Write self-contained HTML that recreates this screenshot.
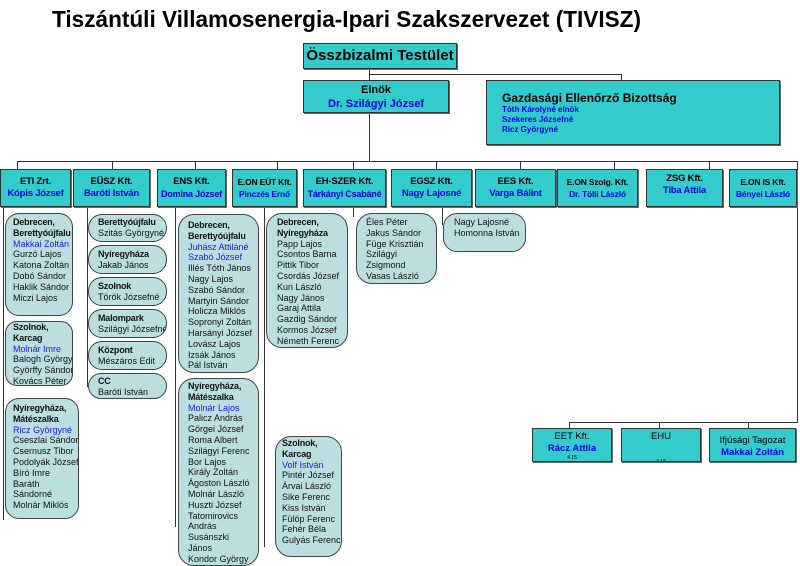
<!DOCTYPE html>
<html><head><meta charset="utf-8"><style>
body{margin:0;width:800px;height:564px;background:#fff;position:relative;overflow:hidden;font-family:"Liberation Sans",Arial,sans-serif}
.a{position:absolute}
.h{position:absolute;background:#333;height:1px}
.v{position:absolute;background:#333;width:1px}
.b{position:absolute;background:#33CCCC;border:1px solid #333;box-shadow:1px 1px 0 #666;box-sizing:border-box;text-align:center;font-weight:bold;font-size:9.5px;line-height:12px;white-space:nowrap;overflow:hidden;letter-spacing:-0.2px}
.bl{color:#0000EE}
.l{position:absolute;background:#BBDFE1;border:1px solid #444;border-radius:14px;box-sizing:border-box;font-size:9px;line-height:10.8px;padding:4px 0 0 6px;white-space:nowrap;overflow:hidden;color:#111}
.l b{font-weight:bold;letter-spacing:-0.2px}
.l i{font-style:normal;color:#1a1aff}
</style></head><body>
<svg class="a" style="left:0;top:0" width="800" height="40"><text x="52" y="27" font-family="Liberation Sans" font-weight="bold" font-size="23" textLength="589" lengthAdjust="spacingAndGlyphs">Tiszántúli Villamosenergia-Ipari Szakszervezet  (TIVISZ)</text></svg>

<div class="v" style="left:369px;top:68px;height:93px"></div>
<div class="h" style="left:369px;top:74px;width:253px"></div>
<div class="v" style="left:621px;top:74px;height:7px"></div>
<div class="h" style="left:17px;top:161px;width:781px"></div>
<div class="v" style="left:17px;top:161px;height:8px"></div>
<div class="v" style="left:112px;top:161px;height:8px"></div>
<div class="v" style="left:195px;top:161px;height:8px"></div>
<div class="v" style="left:277px;top:161px;height:8px"></div>
<div class="v" style="left:353px;top:161px;height:8px"></div>
<div class="v" style="left:436px;top:161px;height:8px"></div>
<div class="v" style="left:520px;top:161px;height:8px"></div>
<div class="v" style="left:614px;top:161px;height:8px"></div>
<div class="v" style="left:709px;top:161px;height:8px"></div>
<div class="v" style="left:797px;top:161px;height:262px"></div>
<div class="h" style="left:569px;top:422px;width:229px"></div>
<div class="v" style="left:569px;top:422px;height:7px"></div>
<div class="v" style="left:659px;top:422px;height:7px"></div>
<div class="v" style="left:748px;top:422px;height:7px"></div>
<div class="v" style="left:3px;top:207px;height:313px"></div>
<div class="v" style="left:87px;top:207px;height:180px"></div>
<div class="v" style="left:175px;top:207px;height:320px"></div>
<div class="v" style="left:264px;top:207px;height:340px"></div>
<div class="v" style="left:353px;top:207px;height:10px"></div>
<div class="v" style="left:442px;top:207px;height:18px"></div>

<div class="b" style="left:303px;top:43px;width:154px;height:26px;font-size:15px;line-height:24px;letter-spacing:0">Összbizalmi Testület</div>
<div class="b" style="left:303px;top:80px;width:146px;height:33px;font-size:11px;line-height:14px;padding-top:2px;letter-spacing:0">Elnök<br><span class="bl">Dr. Szilágyi József</span></div>
<div class="b" style="left:486px;top:80px;width:294px;height:65px;text-align:left;padding:10px 0 0 15px;font-size:12px;line-height:14px;letter-spacing:0">Gazdasági Ellenőrző Bizottság<div class="bl" style="font-size:8px;line-height:10px">Tóth Károlyné elnök<br>Szekeres Józsefné<br>Ricz Györgyné</div></div>

<div class="b" style="left:0;top:169px;width:71px;height:38px;padding-top:6px">ETI Zrt.<br><span class="bl">Kópis József</span></div>
<div class="b" style="left:73px;top:169px;width:77px;height:38px;padding-top:6px">EÜSZ Kft.<br><span class="bl">Baróti István</span></div>
<div class="b" style="left:157px;top:169px;width:69px;height:38px;padding-top:6px">ENS Kft.<br><span class="bl" style="font-size:9px">Domina József</span></div>
<div class="b" style="left:232px;top:169px;width:65px;height:38px;padding-top:6px;font-size:8.5px">E.ON EÜT Kft.<br><span class="bl">Pinczés Ernő</span></div>
<div class="b" style="left:303px;top:169px;width:83px;height:38px;padding-top:6px">EH-SZER Kft.<br><span class="bl" style="font-size:9px">Tárkányi Csabáné</span></div>
<div class="b" style="left:391px;top:169px;width:81px;height:38px;padding-top:6px">EGSZ Kft.<br><span class="bl">Nagy Lajosné</span></div>
<div class="b" style="left:475px;top:169px;width:81px;height:38px;padding-top:6px">EES Kft.<br><span class="bl">Varga Bálint</span></div>
<div class="b" style="left:557px;top:169px;width:81px;height:38px;padding-top:6px;font-size:8.5px">E.ON Szolg. Kft.<br><span class="bl">Dr. Tölli László</span></div>
<div class="b" style="left:646px;top:169px;width:77px;height:38px;padding-top:3px">ZSG Kft.<br><span class="bl">Tiba Attila</span></div>
<div class="b" style="left:729px;top:169px;width:68px;height:38px;padding-top:6px;font-size:8.5px">E.ON IS Kft.<br><span class="bl">Bényei László</span></div>

<div class="b" style="left:532px;top:428px;width:80px;height:34px;font-weight:normal;padding-top:2px;letter-spacing:0">EET Kft.<br><span class="bl" style="font-weight:bold">Rácz Attila</span><div style="font-size:5px;line-height:6px">4.15</div></div>
<div class="b" style="left:621px;top:428px;width:80px;height:34px;font-weight:normal;padding-top:2px;letter-spacing:0">EHU<div style="font-size:5px;line-height:6px;margin-top:16px">4.15</div></div>
<div class="b" style="left:709px;top:428px;width:87px;height:34px;font-weight:normal;padding-top:6px;letter-spacing:0">Ifjúsági Tagozat<br><span class="bl" style="font-weight:bold">Makkai Zoltán</span></div>

<div class="l" style="left:5px;top:213px;width:68px;height:103px;padding-left:7px;padding-top:3px"><b>Debrecen,<br>Berettyóújfalu</b><br><i>Makkai Zoltán</i><br>Gurzó Lajos<br>Katona Zoltán<br>Dobó Sándor<br>Haklik Sándor<br>Miczi Lajos</div>
<div class="l" style="left:5px;top:321px;width:68px;height:65px;padding-left:7px;padding-top:0;border-radius:12px"><b>Szolnok,<br>Karcag</b><br><i>Molnár Imre</i><br>Balogh György<br>Györffy Sándor<br>Kovács Péter</div>
<div class="l" style="left:5px;top:398px;width:74px;height:121px;padding-left:7px"><b>Nyíregyháza,<br>Mátészalka</b><br><i>Ricz Györgyné</i><br>Cseszlai Sándor<br>Csernusz Tibor<br>Podolyák József<br>Bíró Imre<br>Baráth<br>Sándorné<br>Molnár Miklós</div>

<div class="l" style="left:88px;top:214px;width:79px;height:28px;padding-top:2px;padding-left:9px"><b>Berettyóújfalu</b><br>Szitás Györgyné</div>
<div class="l" style="left:88px;top:245px;width:79px;height:29px;padding-top:3px;padding-left:9px"><b>Nyíregyháza</b><br>Jakab János</div>
<div class="l" style="left:88px;top:277px;width:79px;height:29px;padding-top:3px;padding-left:9px"><b>Szolnok</b><br>Török Józsefné</div>
<div class="l" style="left:88px;top:309px;width:79px;height:29px;padding-top:3px;padding-left:9px"><b>Malompark</b><br>Szilágyi Józsefné</div>
<div class="l" style="left:88px;top:341px;width:79px;height:29px;padding-top:3px;padding-left:9px"><b>Központ</b><br>Mészáros Edit</div>
<div class="l" style="left:88px;top:373px;width:79px;height:26px;padding-top:2px;padding-left:9px"><b>CC</b><br>Baróti István</div>

<div class="l" style="left:178px;top:214px;width:81px;height:159px;padding-top:5px;padding-left:9px;border-radius:16px"><b>Debrecen,<br>Berettyóújfalu</b><br><i>Juhász Attiláné<br>Szabó József</i><br>Illés Tóth János<br>Nagy Lajos<br>Szabó Sándor<br>Martyin Sándor<br>Holicza Miklós<br>Sopronyi Zoltán<br>Harsányi József<br>Lovász Lajos<br>Izsák János<br>Pál István</div>
<div class="l" style="left:178px;top:378px;width:81px;height:188px;padding-top:2px;padding-left:9px;border-radius:16px"><b>Nyíregyháza,<br>Mátészalka</b><br><i>Molnár Lajos</i><br>Palicz András<br>Görgei József<br>Roma Albert<br>Szilágyi Ferenc<br>Bor Lajos<br>Király Zoltán<br>Ágoston László<br>Molnár László<br>Huszti József<br>Tatomirovics<br>András<br>Susánszki<br>János<br>Kondor György</div>

<div class="l" style="left:266px;top:213px;width:82px;height:135px;padding-top:3px;padding-left:10px;border-radius:16px"><b>Debrecen,<br>Nyíregyháza</b><br>Papp Lajos<br>Csontos Barna<br>Pittik Tibor<br>Csordás József<br>Kun László<br>Nagy János<br>Garaj Attila<br>Gazdig Sándor<br>Kormos József<br>Németh Ferenc</div>
<div class="l" style="left:275px;top:436px;width:67px;height:121px;padding-top:1px;padding-left:6px;border-radius:16px"><b>Szolnok,<br>Karcag</b><br><i>Volf István</i><br>Pintér József<br>Árvai László<br>Sike Ferenc<br>Kiss István<br>Fülöp Ferenc<br>Fehér Béla<br>Gulyás Ferenc</div>

<div class="l" style="left:356px;top:213px;width:81px;height:71px;padding-top:3px;padding-left:9px;border-radius:16px">Éles Péter<br>Jakus Sándor<br>Füge Krisztián<br>Szilágyi<br>Zsigmond<br>Vasas László</div>
<div class="l" style="left:443px;top:213px;width:83px;height:39px;padding-top:3px;padding-left:10px;border-radius:14px">Nagy Lajosné<br>Homonna István</div>
</body></html>
